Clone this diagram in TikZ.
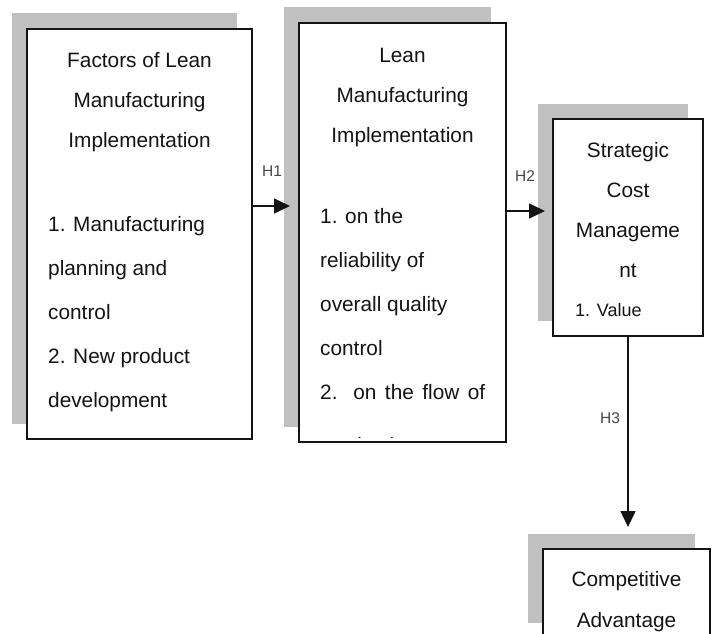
\documentclass[tikz,border=0pt]{standalone}
\usepackage{fontspec}
\setmainfont{Liberation Sans}
\usetikzlibrary{arrows.meta,shadows}
\definecolor{shade}{RGB}{192,192,192}
\definecolor{ink}{RGB}{20,20,20}
\definecolor{labelgray}{RGB}{70,70,70}
\tikzset{
  box/.style={draw=ink, line width=1.5pt, fill=white, inner sep=0pt, outer sep=0pt,
    general shadow={fill=shade, shadow xshift=-15.5pt, shadow yshift=15.5pt}},
  heading/.style={inner sep=0pt, align=center, text=ink,
    font=\fontsize{20.8}{40}\selectfont},
  items/.style={inner sep=0pt, align=left, text=ink,
    font=\fontsize{20.8}{44}\selectfont},
  hyp/.style={inner sep=0pt, text=labelgray, font=\fontsize{15.5}{18}\selectfont},
  link/.style={draw=ink, line width=1.6pt, -{Triangle[length=16pt,width=15pt]}}
}
\begin{document}
\begin{tikzpicture}[x=1pt,y=-1pt]
\useasboundingbox (0,0) rectangle (712,634);
\clip (0,0) rectangle (712,634);

% boxes with offset grey shadows
\node[box, minimum width=225pt, minimum height=410pt] (b1) at (139.5,234) {};
\node[box, minimum width=207pt, minimum height=419pt] (b2) at (402.5,232.5) {};
\node[box, minimum width=150pt, minimum height=217pt] (b3) at (628,227.5) {};
\node[box, minimum width=167pt, minimum height=89pt] (b4) at (626.5,593.5) {};

% box 1 text (multi-line nodes are anchored on their last baseline)
\node[heading, anchor=base] (t1) at (139.5,147)
  {Factors of Lean\\Manufacturing\\Implementation};
\node[items, anchor=base west] (i1) at (48,407)
  {1. Manufacturing\\planning and\\control\\2. New product\\development};

% box 2 text
\node[heading, anchor=base] (t2) at (402.5,142)
  {Lean\\Manufacturing\\Implementation};
\node[items, anchor=base west] (i2) at (320,399)
  {1. on the\\reliability of\\overall quality\\control\\\makebox[165pt][s]{2. on the flow of}};
% the next line runs past the bottom of the box and is cut off
\begin{scope}
  \clip (b2.north west) rectangle (506,437);
  \node[items, anchor=base west] (i2b) at (320,452.5) {production};
\end{scope}

% box 3 text
\node[heading, anchor=base] (t3) at (628,277)
  {Strategic\\Cost\\Manageme\\nt};
\node[inner sep=0pt, text=ink, font=\fontsize{18}{20}\selectfont, anchor=base west] (v3) at (575,316) {1. Value};

% box 4 text
\node[heading, anchor=base, font=\fontsize{20.8}{41}\selectfont] (t4) at (626.5,627)
  {Competitive\\Advantage};

% connectors
\coordinate (h1end) at (290,206);
\coordinate (h2end) at (545,211);
\coordinate (h3end) at (628,527);
\draw[link] (b1.east |- h1end) -- (h1end);
\draw[link] (b2.east |- h2end) -- (h2end);
\draw[link] (b3.south) -- (h3end);

% hypothesis labels
\node[hyp, anchor=base west] (l1) at (262,176) {H1};
\node[hyp, anchor=base west] (l2) at (515,181) {H2};
\node[hyp, anchor=base west] (l3) at (600,423) {H3};
\end{tikzpicture}
\end{document}
